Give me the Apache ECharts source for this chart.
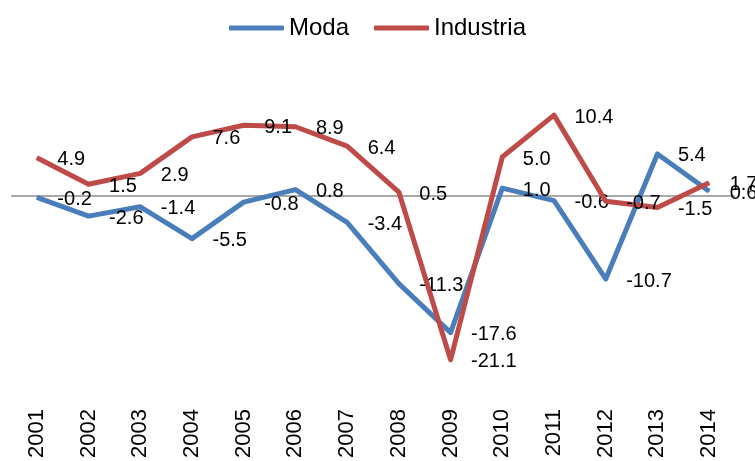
<!DOCTYPE html>
<html>
<head>
<meta charset="utf-8">
<script src="https://cdn.jsdelivr.net/npm/echarts@6/dist/echarts.min.js"></script>
<style>
html,body{margin:0;padding:0;background:#fff;}
#chart{width:755px;height:461px;}
</style>
</head>
<body>
<div id="chart"></div>
<script>
const years = ['2001','2002','2003','2004','2005','2006','2007','2008','2009','2010','2011','2012','2013','2014'];
const moda = [-0.2, -2.6, -1.4, -5.5, -0.8, 0.8, -3.4, -11.3, -17.6, 1.0, -0.6, -10.7, 5.4, 0.6];
const industria = [4.9, 1.5, 2.9, 7.6, 9.1, 8.9, 6.4, 0.5, -21.1, 5.0, 10.4, -0.7, -1.5, 1.7];

const chart = echarts.init(document.getElementById('chart'), null, {renderer: 'canvas'});
const labelStyle = {
  show: true,
  position: 'right',
  distance: 20,
  offset: [0, 2],
  color: '#000',
  fontFamily: 'Liberation Sans',
  fontSize: 20,
  formatter: p => p.value.toFixed(1)
};
chart.setOption({
  animation: false,
  backgroundColor: '#fff',
  legend: {
    top: 11,
    left: 'center',
    icon: 'roundRect',
    itemWidth: 55,
    itemHeight: 5,
    itemGap: 25,
    textStyle: {fontFamily: 'Liberation Sans', fontSize: 24, color: '#000'},
    data: ['Moda', 'Industria']
  },
  grid: {left: 11, right: 20, top: 79.4, bottom: 70.6, containLabel: false},
  xAxis: {
    type: 'category',
    data: years,
    position: 'bottom',
    axisLine: {show: false, onZero: false},
    axisTick: {show: false},
    axisLabel: {rotate: 90, margin: 19, fontFamily: 'Liberation Sans', fontSize: 22, color: '#000'}
  },
  yAxis: {
    type: 'value',
    min: -25,
    max: 15,
    interval: 5,
    show: false,
    splitLine: {show: false}
  },
  series: [
    {
      name: 'Moda',
      type: 'line',
      z: 2,
      data: moda,
      symbol: 'circle',
      symbolSize: 1,
      color: '#4a7ebb',
      lineStyle: {width: 5, color: '#4a7ebb', join: 'round'},
      itemStyle: {color: '#4a7ebb'},
      label: labelStyle,
      markLine: {
        silent: true,
        symbol: ['none', 'none'],
        label: {show: false},
        lineStyle: {color: '#8c8c8c', width: 1.5, type: 'solid'},
        z: 1,
        data: [{yAxis: 0}]
      }
    },
    {
      name: 'Industria',
      type: 'line',
      z: 3,
      data: industria,
      symbol: 'circle',
      symbolSize: 1,
      color: '#be4b48',
      lineStyle: {width: 5, color: '#be4b48', join: 'round'},
      itemStyle: {color: '#be4b48'},
      label: labelStyle
    }
  ]
});
</script>
</body>
</html>
